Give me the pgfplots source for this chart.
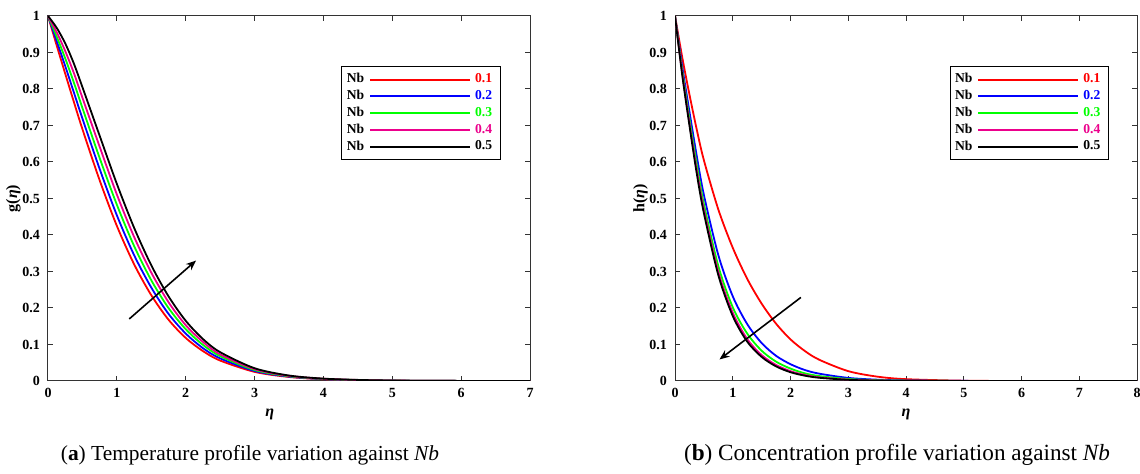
\documentclass[border=0pt]{standalone}
\usepackage{pgfplots}
\pgfplotsset{compat=1.18}
\usepackage{pgfplotstable}
\usepackage{fontspec}
\setmainfont{Liberation Serif}
\usetikzlibrary{arrows.meta}

% temperature profile g(eta) for Nb = 0.1 ... 0.5
\pgfplotstableread{
eta r b gr m k
0 1 1 1 1 1
0.125 0.920 0.932 0.944 0.956 0.968
0.25 0.842 0.863 0.884 0.904 0.925
0.375 0.765 0.791 0.818 0.844 0.870
0.5 0.690 0.719 0.748 0.776 0.805
0.75 0.550 0.581 0.611 0.642 0.672
1.0 0.425 0.454 0.483 0.511 0.540
1.25 0.320 0.345 0.370 0.395 0.420
1.5 0.235 0.256 0.276 0.297 0.317
1.75 0.168 0.184 0.200 0.216 0.232
2.0 0.118 0.130 0.142 0.153 0.165
2.25 0.082 0.090 0.099 0.107 0.115
2.5 0.056 0.062 0.068 0.073 0.079
3.0 0.025 0.0275 0.030 0.0325 0.035
3.5 0.011 0.012 0.013 0.014 0.015
4.0 0.0048 0.0052 0.0057 0.0061 0.0065
4.5 0.0021 0.0023 0.0026 0.0028 0.0030
5.0 0.0009 0.0010 0.0011 0.0012 0.0013
6.0 0.0002 0.0002 0.0002 0.0002 0.0002
7.0 0 0 0 0 0
}\gtab

% concentration profile h(eta) for Nb = 0.1 ... 0.5
\pgfplotstableread{
eta r b gr m k
0 1 1 1 1 1
0.125 0.887 0.862 0.850 0.843 0.838
0.25 0.785 0.738 0.718 0.707 0.700
0.375 0.690 0.618 0.595 0.580 0.570
0.5 0.605 0.510 0.485 0.470 0.460
0.75 0.470 0.345 0.315 0.299 0.290
1.0 0.365 0.232 0.202 0.187 0.178
1.25 0.280 0.156 0.130 0.115 0.108
1.5 0.212 0.104 0.083 0.071 0.066
1.75 0.157 0.069 0.053 0.044 0.040
2.0 0.114 0.046 0.034 0.027 0.024
2.25 0.082 0.030 0.021 0.0165 0.0145
2.5 0.058 0.020 0.0135 0.010 0.0088
3.0 0.027 0.0085 0.0055 0.0037 0.0032
3.5 0.012 0.0036 0.0022 0.0014 0.0012
4.0 0.005 0.0015 0.0009 0.0005 0.0004
5.0 0.0008 0.0003 0.0001 0 0
6.0 0.0001 0 0 0 0
8.0 0 0 0 0 0
}\htab

\pgfplotsset{
  panel/.style={
    scale only axis, height=182.5pt,
    ymin=0, ymax=1, xmin=0,
    ytick={0,0.1,0.2,0.3,0.4,0.5,0.6,0.7,0.8,0.9,1},
    yticklabels={0,0.1,0.2,0.3,0.4,0.5,0.6,0.7,0.8,0.9,1},
    tick align=inside, tick pos=both,
    major tick length=2.5pt,
    every tick/.style={black!80, line width=0.5pt},
    axis line style={black!80, line width=0.5pt},
    /pgf/number format/assume math mode=true,
    tick label style={font=\bfseries\fontsize{7}{8}\selectfont},
    yticklabel style={xshift=-0.5pt},
    label style={font=\bfseries\fontsize{8}{9}\selectfont},
    xlabel={\itshape η},
    xlabel style={yshift=1pt},
    ylabel style={yshift=-6pt},
    legend style={at={(rel axis cs:0.939,0.863)}, anchor=north east,
      draw=black, line width=0.5pt, row sep=-1.6pt,
      inner xsep=2pt, inner ysep=1.5pt,
      font=\bfseries\fontsize{6.8}{7.5}\selectfont},
    legend cell align=left,
    legend image code/.code={
      \node[anchor=east, inner sep=0.5pt, black, font=\bfseries\fontsize{6.8}{7.5}\selectfont] at (0pt,0pt) {Nb};
      \draw[##1, line width=1pt] (2pt,0pt) -- (52pt,0pt);},
    every axis plot/.append style={line width=0.9pt, no markers},
  }
}

\begin{document}
\begin{tikzpicture}[x=1pt,y=1pt]
\path[use as bounding box] (0,0) rectangle (570,237);

\begin{axis}[panel, at={(24pt,46.5pt)}, anchor=south west,
  width=241pt, xmax=7, xtick={0,1,...,7},
  ylabel={g(\textit{η})},
  xlabel style={at={(ticklabel cs:0.46)}}]
\addplot[red, smooth] table[x=eta,y=r] {\gtab};
\addplot[blue, smooth] table[x=eta,y=b] {\gtab};
\addplot[green, smooth] table[x=eta,y=gr] {\gtab};
\addplot[magenta, smooth] table[x=eta,y=m] {\gtab};
\addplot[black, smooth] table[x=eta,y=k] {\gtab};
\legend{\textcolor{red}{0.1},\textcolor{blue}{0.2},\textcolor{green}{0.3},\textcolor{magenta}{0.4},\textcolor{black}{0.5}}
\draw[black, line width=0.8pt, -{Stealth[length=5pt,width=4pt]}] (axis cs:1.18,0.17) -- (axis cs:2.15,0.33);
\end{axis}

\begin{axis}[panel, at={(337.5pt,46.5pt)}, anchor=south west,
  width=231pt, xmax=8, xtick={0,1,...,8},
  ylabel={h(\textit{η})}]
\addplot[red, smooth] table[x=eta,y=r] {\htab};
\addplot[blue, smooth] table[x=eta,y=b] {\htab};
\addplot[green, smooth] table[x=eta,y=gr] {\htab};
\addplot[magenta, smooth] table[x=eta,y=m] {\htab};
\addplot[black, smooth] table[x=eta,y=k] {\htab};
\legend{\textcolor{red}{0.1},\textcolor{blue}{0.2},\textcolor{green}{0.3},\textcolor{magenta}{0.4},\textcolor{black}{0.5}}
\draw[black, line width=0.8pt, -{Stealth[length=5pt,width=4pt]}] (axis cs:2.18,0.229) -- (axis cs:0.77,0.059);
\end{axis}

\node[font=\fontsize{10.7}{12}\selectfont] at (125,9.5) {(\textbf{a}) Temperature profile variation against \textit{Nb}};
\node[font=\fontsize{11.6}{13}\selectfont] at (448.5,9.5) {(\textbf{b}) Concentration profile variation against \textit{Nb}};
\end{tikzpicture}
\end{document}
